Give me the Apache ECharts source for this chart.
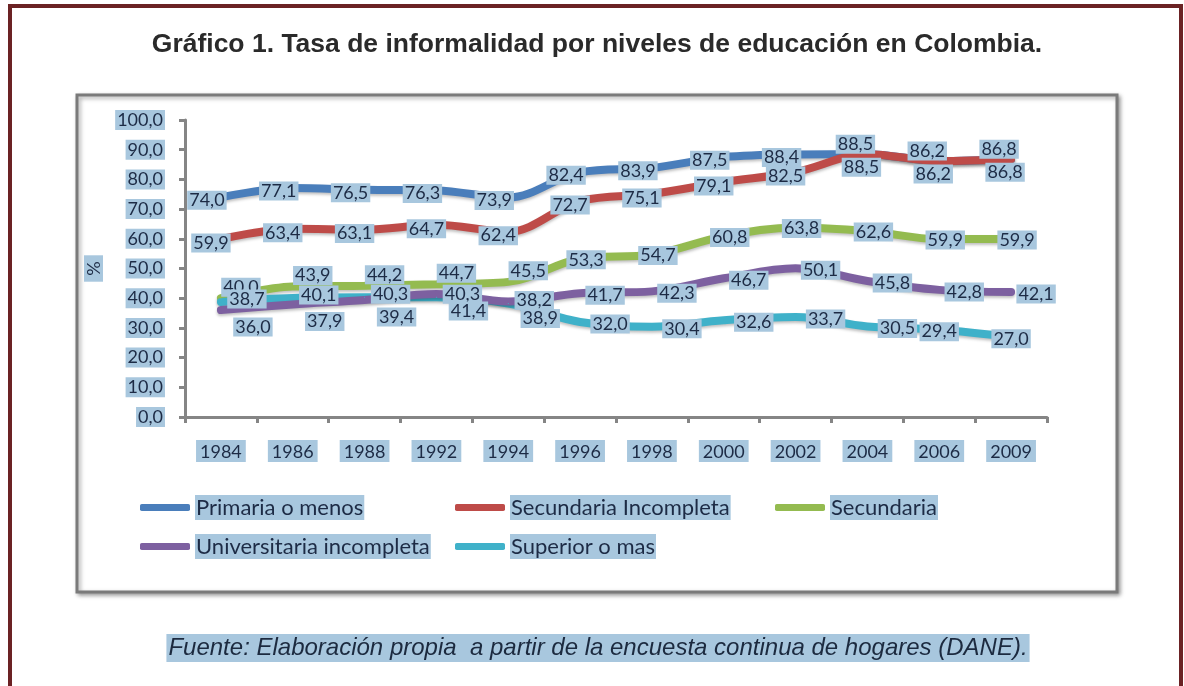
<!DOCTYPE html>
<html>
<head>
<meta charset="utf-8">
<script src="https://cdn.jsdelivr.net/npm/echarts@6/dist/echarts.min.js"></script>
<style>
html,body{margin:0;padding:0;background:#fff;}
#c{width:1184px;height:686px;}
</style>
</head>
<body>
<div id="c"></div>
<script>
var years = ['1984','1986','1988','1992','1994','1996','1998','2000','2002','2004','2006','2009'];
var yTicks = [0,10,20,30,40,50,60,70,80,90,100];
var primaria = [74.0,77.1,76.5,76.3,73.9,82.4,83.9,87.5,88.4,88.5,86.2,86.8];
var secIncompleta = [59.9,63.4,63.1,64.7,62.4,72.7,75.1,79.1,82.5,88.5,86.2,86.8];
var secundaria = [40.0,43.9,44.2,44.7,45.5,53.3,54.7,60.8,63.8,62.6,59.9,59.9];
var univIncompleta = [36.0,37.9,39.4,41.4,38.9,41.7,42.3,46.7,50.1,45.8,42.8,42.1];
var superior = [38.7,40.1,40.3,40.3,38.2,32.0,30.4,32.6,33.7,30.5,29.4,27.0];
var seriesNames = ['Primaria o menos','Secundaria Incompleta','Secundaria','Universitaria incompleta','Superior o mas'];
var title = 'Gráfico 1. Tasa de informalidad por niveles de educación en Colombia.';
var source = 'Fuente: Elaboración propia  a partir de la encuesta continua de hogares (DANE).';

var HL = '#a8c7de';
var TXT = '#1d2b45';
var FONT = 'Lato, "Open Sans", sans-serif';
function fmt(v){ return Number(v).toFixed(1).replace('.', ','); }

// label placement rules (style only): base shift, optional head/tail overrides
function mkSeries(name, values, color, rule){
  var n = values.length;
  return {
    name: name, type: 'line', data: values, smooth: 0.35, showSymbol: true, symbol: 'circle', symbolSize: 1,
    lineStyle: {color: color, width: 8, cap: 'round', shadowColor: 'rgba(0,0,0,0.25)', shadowBlur: 3, shadowOffsetY: 2},
    itemStyle: {color: color},
    label: {
      show: true, position: 'inside',
      formatter: function(p){ return fmt(p.value); },
      color: TXT, fontFamily: FONT, fontSize: 18,
      backgroundColor: HL, padding: [1, 2, 0, 2]
    },
    labelLayout: function(p){
      var i = p.dataIndex, dx = rule.dx, dy = rule.dy;
      if (rule.head && i < rule.head.n) { dx = rule.head.dx; dy = rule.head.dy; }
      if (rule.tail && i >= n - rule.tail.n) { dx = rule.tail.dx; dy = rule.tail.dy; }
      return {dx: dx, dy: dy, hideOverlap: false};
    },
    emphasis: {disabled: true}
  };
}

var chart = echarts.init(document.getElementById('c'), null, {renderer: 'canvas'});
var legendText = {fontFamily: FONT, fontSize: 22, color: TXT, backgroundColor: HL, padding: [2, 1, 1, 1]};
function mkLegend(items, left){
  return {data: items, orient: 'vertical', left: left, top: 495, itemGap: 14, padding: 0,
    itemWidth: 50, itemHeight: 7, icon: 'roundRect', textStyle: legendText, selectedMode: false};
}

chart.setOption({
  animation: false,
  backgroundColor: '#fff',
  graphic: [
    {type: 'rect', z: -10, shape: {x: 10, y: 6, width: 1171, height: 700},
      style: {fill: 'transparent', stroke: '#6b2224', lineWidth: 4}},
    {type: 'rect', z: -9, shape: {x: 77, y: 95, width: 1040, height: 497},
      style: {fill: '#fff', stroke: '#7a7a7a', lineWidth: 3, shadowColor: 'rgba(0,0,0,0.35)', shadowBlur: 4, shadowOffsetX: 2, shadowOffsetY: 2}},
    {type: 'text', z: 10, x: 597, y: 45,
      style: {text: title, font: 'bold 26.5px "Liberation Sans", Arial, sans-serif', fill: '#2a2a2a', align: 'center', verticalAlign: 'middle'}},
    {type: 'text', z: 10, x: 598, y: 648,
      style: {text: source, font: 'italic 24px "Liberation Sans", Arial, sans-serif', fill: '#1c2a3f',
        align: 'center', verticalAlign: 'middle', backgroundColor: HL, padding: [2, 2, 2, 2]}}
  ],
  grid: {left: 185, right: 137, top: 120, bottom: 269, containLabel: false},
  legend: [
    mkLegend([seriesNames[0], seriesNames[3]], 140),
    mkLegend([seriesNames[1], seriesNames[4]], 455),
    mkLegend([seriesNames[2]], 775)
  ],
  xAxis: {
    type: 'category', data: years, boundaryGap: true,
    axisLine: {lineStyle: {color: '#858585', width: 3}},
    axisTick: {show: true, length: 6, lineStyle: {color: '#858585', width: 3}},
    axisLabel: {margin: 23, color: TXT, fontFamily: FONT, fontSize: 18, backgroundColor: HL, padding: [3, 4, 1, 4]},
    splitLine: {show: false}
  },
  yAxis: {
    type: 'value', min: 0, max: 100, interval: 10,
    name: '%', nameLocation: 'middle', nameGap: 82, nameRotate: 90,
    nameTextStyle: {color: TXT, fontFamily: FONT, fontSize: 18, backgroundColor: HL, padding: [1, 6, 0, 6]},
    axisLine: {show: true, lineStyle: {color: '#858585', width: 3}},
    axisTick: {show: true, length: 6, lineStyle: {color: '#858585', width: 3}},
    axisLabel: {margin: 20, color: TXT, fontFamily: FONT, fontSize: 18, backgroundColor: HL, padding: [2, 2, 0, 2],
      formatter: function(v){ return fmt(v); }},
    splitLine: {show: false}
  },
  series: [
    mkSeries(seriesNames[0], primaria, '#4a7ebb', {dx: -14, dy: 3, tail: {n: 3, dx: -12, dy: -10}}),
    mkSeries(seriesNames[1], secIncompleta, '#be4b48', {dx: -10, dy: 4, tail: {n: 3, dx: -6, dy: 13}}),
    mkSeries(seriesNames[2], secundaria, '#94bb50', {dx: 6, dy: 1, head: {n: 5, dx: 20, dy: -11}}),
    mkSeries(seriesNames[4], superior, '#3fb1c9', {dx: 30, dy: 2, head: {n: 5, dx: 26, dy: -3}, tail: {n: 2, dx: 0, dy: 2}}),
    mkSeries(seriesNames[3], univIncompleta, '#7d60a0', {dx: 25, dy: 2, head: {n: 5, dx: 32, dy: 17}})
  ]
});
</script>
</body>
</html>
